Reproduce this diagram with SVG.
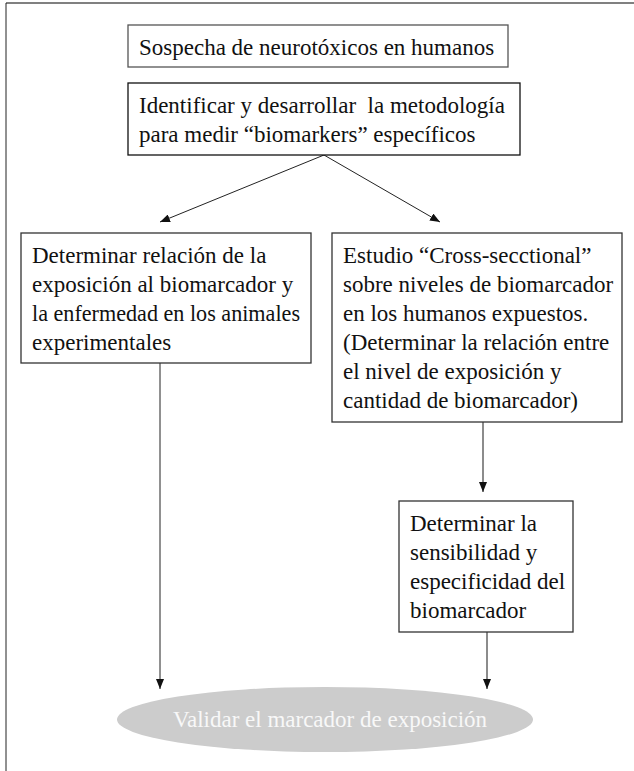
<svg xmlns="http://www.w3.org/2000/svg" width="634" height="771" viewBox="0 0 634 771">
<style>
  .box { fill: #ffffff; stroke: #333333; stroke-width: 1.3; }
  .t { font-family: "Liberation Serif", "Times New Roman", serif; font-size: 23px; fill: #111111; }
  .conn { stroke: #222222; stroke-width: 1; fill: none; }
  .conn-g { stroke: #666666; stroke-width: 1.5; fill: none; }
  .frame-top { stroke: #808080; stroke-width: 2; }
  .frame-left { stroke: #222222; stroke-width: 1; }
</style>
<defs>
  <marker id="arr" markerUnits="userSpaceOnUse" markerWidth="10" markerHeight="8" refX="10" refY="4" orient="auto">
    <path d="M0,0 L10,4 L0,8 z" fill="#111111"/>
  </marker>
</defs>
<rect x="0" y="0" width="634" height="771" fill="#ffffff"/>
<g id="frame">
  <line class="frame-top" x1="6" y1="3" x2="634" y2="3"/>
  <line class="frame-left" x1="6" y1="3" x2="6" y2="771"/>
</g>
<g id="connectors">
  <line class="conn" x1="324" y1="155" x2="160" y2="222" marker-end="url(#arr)"/>
  <line class="conn" x1="324" y1="155" x2="440" y2="222" marker-end="url(#arr)"/>
  <line class="conn" x1="160" y1="363" x2="160" y2="689" marker-end="url(#arr)"/>
  <line class="conn-g" x1="483" y1="422" x2="483" y2="492" marker-end="url(#arr)"/>
  <line class="conn-g" x1="487" y1="632" x2="487" y2="689" marker-end="url(#arr)"/>
</g>
<g id="n1">
  <rect class="box" x="128" y="25" width="380" height="42" style="stroke:#555555"/>
  <text class="t" x="139" y="55">Sospecha de neurotóxicos en humanos</text>
</g>
<g id="n2">
  <rect class="box" x="128" y="83" width="392" height="72" style="stroke:#111111"/>
  <text class="t" x="139" y="113" xml:space="preserve">Identificar y desarrollar  la metodología</text>
  <text class="t" x="139" y="142">para medir “biomarkers” específicos</text>
</g>
<g id="n3">
  <rect class="box" x="21" y="233" width="290" height="130"/>
  <text class="t" x="32" y="263">Determinar relación de la</text>
  <text class="t" x="32" y="292">exposición al biomarcador y</text>
  <text class="t" x="32" y="321" textLength="268" lengthAdjust="spacingAndGlyphs">la enfermedad en los animales</text>
  <text class="t" x="32" y="350">experimentales</text>
</g>
<g id="n4">
  <rect class="box" x="332" y="233" width="290" height="189"/>
  <text class="t" x="343" y="263">Estudio “Cross-secctional”</text>
  <text class="t" x="343" y="292">sobre niveles de biomarcador</text>
  <text class="t" x="343" y="321">en los humanos expuestos.</text>
  <text class="t" x="343" y="350">(Determinar la relación entre</text>
  <text class="t" x="343" y="379">el nivel de exposición y</text>
  <text class="t" x="343" y="408">cantidad de biomarcador)</text>
</g>
<g id="n5">
  <rect class="box" x="399" y="501" width="174" height="131"/>
  <text class="t" x="410" y="531">Determinar la</text>
  <text class="t" x="410" y="560">sensibilidad y</text>
  <text class="t" x="410" y="589">especificidad del</text>
  <text class="t" x="410" y="618">biomarcador</text>
</g>
<g id="n6">
  <ellipse cx="325" cy="719.5" rx="208" ry="32.5" fill="#cccccc"/>
  <text class="t" x="330" y="727" text-anchor="middle" style="fill:#f8f8f8">Validar el marcador de exposición</text>
</g>
</svg>
